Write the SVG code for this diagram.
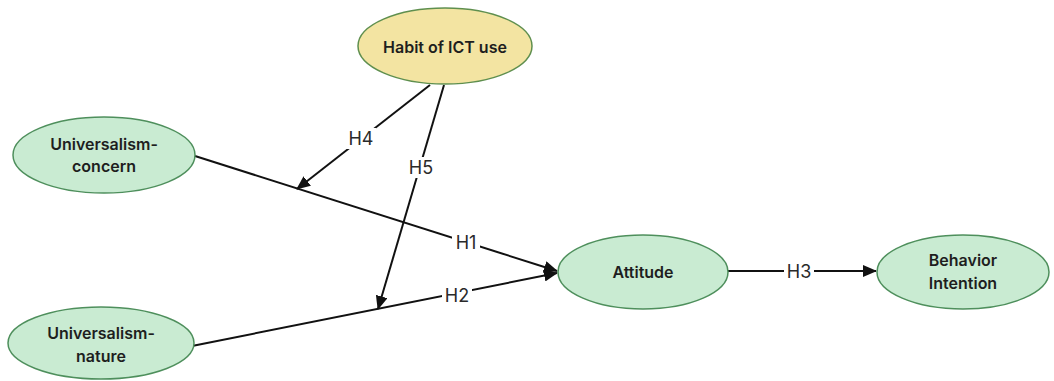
<svg xmlns="http://www.w3.org/2000/svg" width="1054" height="381" viewBox="0 0 1054 381">
<style>
.node{fill:#c9ebd2;stroke:#4e8f5c;stroke-width:1.5}
.habit{fill:#f3e4a2;stroke:#5f8f4e;stroke-width:1.5}
.nt{font-family:Inter,"Liberation Sans",Arial,sans-serif;font-size:16px;font-weight:600;fill:#1e1e1e;text-anchor:middle}
.edge{stroke:#111;stroke-width:2;fill:none}
.lbl{font-family:Inter,"Liberation Sans",Arial,sans-serif;font-size:18px;fill:#2a2a2a;text-anchor:middle}
.bg{fill:#fff}
</style>
<defs>
<marker id="ah" viewBox="0 0 14 12" refX="13" refY="6" markerWidth="14" markerHeight="12" markerUnits="userSpaceOnUse" orient="auto">
<path d="M0,0 L14,6 L0,12 Z" fill="#111"/>
</marker>
</defs>
<rect width="1054" height="381" fill="#fff"/>
<g id="connectors">
<line class="edge" x1="195" y1="156" x2="557" y2="271" marker-end="url(#ah)"/>
<line class="edge" x1="192" y1="346" x2="557" y2="273" marker-end="url(#ah)"/>
<line class="edge" x1="728" y1="271" x2="876" y2="271" marker-end="url(#ah)"/>
<line class="edge" x1="430" y1="85" x2="297" y2="189" marker-end="url(#ah)"/>
<line class="edge" x1="444" y1="85" x2="378" y2="309" marker-end="url(#ah)"/>
<rect class="bg" x="452" y="232" width="28" height="21"/>
<text class="lbl" x="466" y="249">H1</text>
<rect class="bg" x="442" y="285" width="30" height="21"/>
<text class="lbl" x="457" y="302">H2</text>
<rect class="bg" x="784" y="261" width="30" height="21"/>
<text class="lbl" x="799" y="278">H3</text>
<rect class="bg" x="346" y="128" width="30" height="21"/>
<text class="lbl" x="361" y="145">H4</text>
<rect class="bg" x="406" y="157" width="30" height="21"/>
<text class="lbl" x="421" y="174">H5</text>
</g>
<g id="habit">
<ellipse class="habit" cx="445" cy="46" rx="87" ry="38"/>
<text class="nt" x="445" y="53">Habit of ICT use</text>
</g>
<g id="concern">
<ellipse class="node" cx="104" cy="155" rx="91" ry="38"/>
<text class="nt" x="104" y="150">Universalism-</text>
<text class="nt" x="104" y="172">concern</text>
</g>
<g id="nature">
<ellipse class="node" cx="101" cy="343" rx="93" ry="36"/>
<text class="nt" x="101" y="339">Universalism-</text>
<text class="nt" x="101" y="362">nature</text>
</g>
<g id="attitude">
<ellipse class="node" cx="643" cy="272" rx="85" ry="37"/>
<text class="nt" x="643" y="278">Attitude</text>
</g>
<g id="behavior">
<ellipse class="node" cx="963" cy="272" rx="86" ry="37"/>
<text class="nt" x="963" y="266">Behavior</text>
<text class="nt" x="963" y="289">Intention</text>
</g>
</svg>
